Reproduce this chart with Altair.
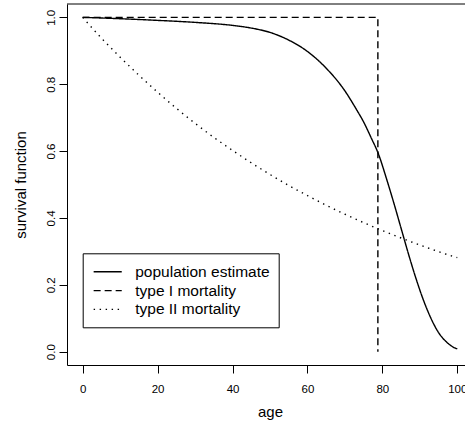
import altair as alt
import pandas as pd

# ---- data ----
series_names = ["population estimate", "type I mortality", "type II mortality"]

pop_age = [0, 10, 20, 30, 40, 45, 50, 55, 60, 65, 70, 73, 75, 77, 79, 81, 83, 85,
           87, 89, 91, 93, 95, 97, 99, 100]
pop_val = [1.0, 0.996, 0.991, 0.985, 0.976, 0.968, 0.955, 0.932, 0.898, 0.848,
           0.780, 0.726, 0.687, 0.640, 0.590, 0.521, 0.447, 0.369, 0.291, 0.218,
           0.153, 0.099, 0.057, 0.030, 0.013, 0.008]

type1_age = [0, 78.8, 78.8]
type1_val = [1.0, 1.0, 0.0]

type2_age = [0, 5, 10, 15, 20, 25, 30, 35, 40, 45, 50, 55, 60, 65, 70, 75, 80,
             85, 90, 95, 100]
type2_val = [1.0, 0.938, 0.881, 0.827, 0.776, 0.728, 0.683, 0.641, 0.602, 0.565,
             0.530, 0.497, 0.467, 0.438, 0.411, 0.386, 0.362, 0.340, 0.319,
             0.299, 0.281]

x_ticks = [0, 20, 40, 60, 80, 100]
y_ticks = [0.0, 0.2, 0.4, 0.6, 0.8, 1.0]

def frame(name, ages, vals):
    return pd.DataFrame({"series": name, "age": ages, "value": vals,
                         "idx": list(range(len(ages)))})

df_curves = pd.concat([frame(series_names[0], pop_age, pop_val),
                       frame(series_names[2], type2_age, type2_val)])
df_type1 = frame(series_names[1], type1_age, type1_val)

W, H = 398, 361
FONT = "Liberation Sans"

x_enc = alt.X("age:Q",
              scale=alt.Scale(domain=[-4.19, 102.06], nice=False, zero=False),
              axis=alt.Axis(values=x_ticks, title="age", labelFlush=False,
                            labelOverlap=False, tickSize=8, labelPadding=19,
                            labelBaseline="alphabetic", labelFontSize=11.5,
                            titleX=203, titleY=51.5, titleAlign="center",
                            titleBaseline="alphabetic", titleFontSize=15))
y_enc = alt.Y("value:Q",
              scale=alt.Scale(domain=[-0.04, 1.04], nice=False, zero=False),
              axis=alt.Axis(values=y_ticks, format=".1f", title="survival function",
                            labelFlush=False, labelOverlap=False, tickSize=8,
                            labelAngle=270, labelAlign="center",
                            labelBaseline="alphabetic", labelPadding=5,
                            labelFontSize=11.5,
                            titleX=-42, titleY=H / 2, titleAngle=270,
                            titleAlign="center", titleBaseline="alphabetic",
                            titleFontSize=15))
dash_enc = alt.StrokeDash(
    "series:N",
    scale=alt.Scale(domain=series_names, range=[[1, 0], [7, 4], [1.4, 4.6]]),
    legend=alt.Legend(orient="none", legendX=15.7, legendY=249.3,
                      title=None, symbolType="M-1.65,0H1.65", symbolSize=290,
                      symbolOffset=6.5,
                      symbolStrokeWidth=1.4, symbolStrokeColor="black",
                      labelFontSize=15.5, labelFont=FONT, labelColor="black",
                      labelOffset=18, rowPadding=0.8, padding=9,
                      strokeColor="black", fillColor="white",
                      cornerRadius=0, labelLimit=300))

curves = alt.Chart(df_curves).mark_line(
    strokeWidth=1.4, color="black", strokeCap="butt", interpolate="monotone"
).encode(x=x_enc, y=y_enc, strokeDash=dash_enc, order="idx:Q")

type1 = alt.Chart(df_type1).mark_line(
    strokeWidth=1.4, color="black", strokeCap="butt"
).encode(x=x_enc, y=y_enc, strokeDash=dash_enc, order="idx:Q")

top_edge = alt.Chart(pd.DataFrame({"k": [0]})).mark_rule(
    color="black", strokeWidth=1).encode(
    x=alt.value(0), x2=alt.value(W), y=alt.value(0))

chart = alt.layer(top_edge, curves, type1).properties(
    width=W, height=H,
    padding={"left": 67, "top": 4, "right": 0, "bottom": 61},
    autosize=alt.AutoSizeParams(type="none"),
    background="white",
).configure_view(stroke=None).configure_axis(
    grid=False, domainColor="black", domainWidth=1, tickColor="black",
    tickWidth=1, labelColor="black", titleColor="black", labelFont=FONT,
    titleFont=FONT, titleFontWeight="normal",
)

chart.save("out.html", embed_options={"renderer": "svg", "actions": False})
